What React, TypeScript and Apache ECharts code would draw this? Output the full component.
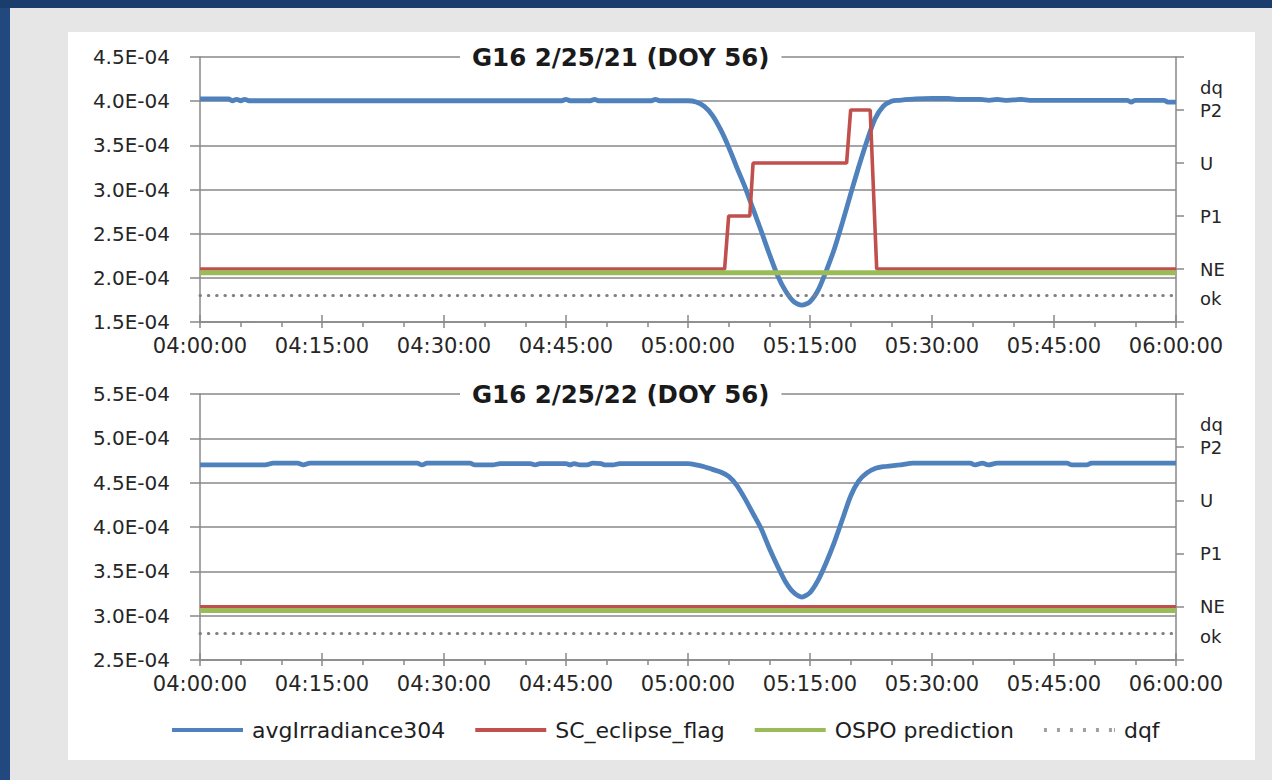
import { useEffect, useRef } from "react";
import * as echarts from "echarts";

// x values: minutes after 04:00:00 ; irradiance in W/m^2 (E-04 scale)
const X_TICK_LABELS = ["04:00:00", "04:15:00", "04:30:00", "04:45:00", "05:00:00", "05:15:00", "05:30:00", "05:45:00", "06:00:00"];

const TOP_TITLE = "G16 2/25/21 (DOY 56)";
const BOTTOM_TITLE = "G16 2/25/22 (DOY 56)";

const SERIES_NAMES = ["avgIrradiance304", "SC_eclipse_flag", "OSPO prediction", "dqf"];

const TOP_IRRADIANCE: [number, number][] = [
  [0, 4.025e-4], [3.5, 4.025e-4], [4, 4.005e-4], [4.5, 4.02e-4], [5, 4.005e-4], [5.5, 4.02e-4], [6, 4.005e-4],
  [44.5, 4.005e-4], [45, 4.02e-4], [45.5, 4.005e-4], [48, 4.005e-4], [48.5, 4.02e-4], [49, 4.005e-4],
  [55.5, 4.005e-4], [56, 4.02e-4], [56.5, 4.005e-4], [60, 4.005e-4], [61, 3.99e-4], [62, 3.94e-4],
  [63, 3.84e-4], [64, 3.68e-4], [65, 3.48e-4], [66, 3.25e-4], [67, 3.03e-4], [68, 2.78e-4], [69, 2.53e-4],
  [70, 2.27e-4], [71, 2.03e-4], [72, 1.85e-4], [73, 1.73e-4], [74, 1.69e-4], [75, 1.73e-4], [76, 1.86e-4],
  [77, 2.08e-4], [78, 2.33e-4], [79, 2.63e-4], [80, 2.95e-4], [81, 3.26e-4], [82, 3.55e-4], [83, 3.8e-4],
  [84, 3.94e-4], [85, 4.0e-4], [86, 4.01e-4], [88, 4.025e-4], [90, 4.03e-4], [92, 4.03e-4], [93, 4.02e-4],
  [96, 4.02e-4], [97, 4.01e-4], [98, 4.02e-4], [99, 4.01e-4], [101, 4.02e-4], [102, 4.01e-4], [114, 4.01e-4],
  [114.5, 3.99e-4], [115, 4.01e-4], [118.5, 4.01e-4], [119, 3.99e-4], [120, 3.99e-4],
];

const BOTTOM_IRRADIANCE: [number, number][] = [
  [0, 4.7e-4], [8, 4.7e-4], [9, 4.72e-4], [12, 4.72e-4], [12.7, 4.7e-4], [13.5, 4.72e-4], [26.7, 4.72e-4],
  [27.3, 4.7e-4], [27.9, 4.72e-4], [33.2, 4.72e-4], [33.8, 4.7e-4], [36, 4.7e-4], [36.9, 4.715e-4],
  [40.6, 4.715e-4], [41.2, 4.7e-4], [41.8, 4.715e-4], [45, 4.715e-4], [45.5, 4.7e-4], [46, 4.715e-4],
  [46.7, 4.7e-4], [47.6, 4.7e-4], [48.3, 4.72e-4], [49.3, 4.715e-4], [49.8, 4.7e-4], [50.8, 4.7e-4],
  [51.6, 4.715e-4], [60, 4.715e-4], [61, 4.7e-4], [62, 4.68e-4], [63, 4.65e-4], [64, 4.62e-4], [65, 4.57e-4],
  [66, 4.47e-4], [67, 4.32e-4], [68, 4.15e-4], [69, 3.98e-4], [70, 3.76e-4], [71, 3.56e-4], [72, 3.38e-4],
  [73, 3.26e-4], [74, 3.21e-4], [75, 3.26e-4], [76, 3.4e-4], [77, 3.6e-4], [78, 3.83e-4], [79, 4.09e-4],
  [80, 4.35e-4], [81, 4.52e-4], [82, 4.61e-4], [83, 4.66e-4], [84, 4.68e-4], [85, 4.69e-4], [86, 4.7e-4],
  [87.7, 4.72e-4], [94.7, 4.72e-4], [95.3, 4.7e-4], [96.2, 4.72e-4], [96.9, 4.7e-4], [98, 4.72e-4],
  [106.6, 4.72e-4], [107.2, 4.7e-4], [109, 4.7e-4], [109.6, 4.72e-4], [120, 4.72e-4],
];

// flag levels on the right axis: ok=0.5, NE=1, P1=2, U=3, P2=4
const TOP_ECLIPSE_FLAG: [number, number][] = [
  [0, 1], [64.5, 1], [65, 2], [67.6, 2], [68, 3], [79.5, 3], [80, 4], [82.4, 4], [83.2, 1], [120, 1],
];
const BOTTOM_ECLIPSE_FLAG: [number, number][] = [[0, 1], [120, 1]];
const TOP_OSPO: [number, number][] = [[0, 0.93], [120, 0.93]];
const BOTTOM_OSPO: [number, number][] = [[0, 0.93], [120, 0.93]];
const TOP_DQF: [number, number][] = [[0, 0.5], [120, 0.5]];
const BOTTOM_DQF: [number, number][] = [[0, 0.5], [120, 0.5]];

const FLAG_LABELS: [number, string][] = [[0.45, "ok"], [1, "NE"], [2, "P1"], [3, "U"], [4, "P2"], [4.42, "dq"]];

const TOP_Y = { min: 1.5e-4, max: 4.5e-4, interval: 0.5e-4 };
const BOTTOM_Y = { min: 2.5e-4, max: 5.5e-4, interval: 0.5e-4 };

const BLUE = "#4f81bd";
const RED = "#c0504d";
const GREEN = "#9bbb59";
const DOT = "#808080";
const GRID_GRAY = "#888888";
const TEXT = "#262626";
const FONT = "DejaVu Sans";

const SOLID_ICON = "path://M0,0h71v4h-71z";
const DOTTED_ICON =
  "path://M0,0h3v4h-3z M13,0h3v4h-3z M26,0h3v4h-3z M39,0h3v4h-3z M52,0h3v4h-3z M65,0h3v4h-3z M70,0h1v4h-1z";

function sciLabel(v: number): string {
  const s = v.toExponential(1);
  const [mant, exp] = s.split("e");
  const e = parseInt(exp, 10);
  return mant + "E" + (e < 0 ? "-" : "+") + String(Math.abs(e)).padStart(2, "0");
}

function flagLabel(v: number): string {
  let best = "";
  let d = 1e9;
  for (const [k, l] of FLAG_LABELS) {
    if (Math.abs(k - v) < d) {
      d = Math.abs(k - v);
      best = l;
    }
  }
  return d < 0.05 ? best : "";
}

function xLabel(v: number): string {
  const idx = Math.round(v / 15);
  return X_TICK_LABELS[idx] ?? "";
}

export default function App() {
  const ref = useRef<HTMLDivElement>(null);

  useEffect(() => {
    if (!ref.current) return;
    const chart = echarts.init(ref.current, undefined, { renderer: "svg" });

    const grids = [
      { left: 200, top: 57, width: 976, height: 265 },
      { left: 200, top: 394, width: 976, height: 266 },
    ];

    const mainX = (gridIndex: number) => ({
      type: "value" as const,
      gridIndex,
      min: 0,
      max: 120,
      interval: 15,
      axisLine: { show: true, onZero: false, lineStyle: { color: GRID_GRAY, width: 1.5 } },
      axisTick: { show: true, length: 6, lineStyle: { color: GRID_GRAY, width: 1.5 } },
      minorTick: { show: true, splitNumber: 3, length: 5, lineStyle: { color: GRID_GRAY, width: 1.5 } },
      splitLine: { show: false },
      axisLabel: { margin: 13, fontFamily: FONT, fontSize: 21, color: TEXT, formatter: xLabel },
    });
    const overlayX = (gridIndex: number) => ({
      type: "value" as const,
      gridIndex,
      min: 0,
      max: 120,
      interval: 15,
      position: "bottom" as const,
      axisLine: { show: false, onZero: false },
      axisTick: { show: true, inside: true, length: 7, lineStyle: { color: GRID_GRAY, width: 1.5 } },
      splitLine: { show: false },
      axisLabel: { show: false },
    });
    const leftY = (gridIndex: number, r: { min: number; max: number; interval: number }) => ({
      type: "value" as const,
      gridIndex,
      position: "left" as const,
      min: r.min,
      max: r.max,
      interval: r.interval,
      axisLine: { show: true, onZero: false, lineStyle: { color: GRID_GRAY, width: 1.5 } },
      axisTick: { show: true, inside: false, length: 10, lineStyle: { color: GRID_GRAY, width: 1.5 } },
      splitLine: { show: true, lineStyle: { color: GRID_GRAY, width: 1.5 } },
      axisLabel: { margin: 30, fontFamily: FONT, fontSize: 20, color: TEXT, formatter: sciLabel },
    });
    const rightY = (gridIndex: number) => ({
      type: "value" as const,
      gridIndex,
      position: "right" as const,
      min: 0,
      max: 5,
      interval: 1,
      axisLine: { show: true, onZero: false, lineStyle: { color: GRID_GRAY, width: 1.5 } },
      axisTick: { show: true, inside: false, length: 8, lineStyle: { color: GRID_GRAY, width: 1.5 } },
      splitLine: { show: false },
      axisLabel: {
        margin: 24,
        fontFamily: FONT,
        fontSize: 18,
        color: TEXT,
        customValues: FLAG_LABELS.map((f) => f[0]),
        formatter: flagLabel,
      },
    });

    const lineSeries = (
      name: string,
      data: [number, number][],
      xIdx: number,
      yIdx: number,
      color: string,
      width: number,
      extra: any = {}
    ) => ({
      name,
      type: "line" as const,
      xAxisIndex: xIdx,
      yAxisIndex: yIdx,
      data,
      symbol: "none",
      showSymbol: false,
      lineStyle: { color, width, ...(extra.lineStyle || {}) },
      itemStyle: { color },
      smooth: extra.smooth ?? false,
      z: extra.z ?? 2,
      silent: true,
    });

    const dotStyle = { type: [0.5, 7.8], cap: "round" };
    const titleStyle = { fontFamily: FONT, fontWeight: "bold", fontSize: 24.5, color: "#1a1a1a", lineHeight: 28 };

    const option: any = {
      animation: false,
      backgroundColor: "transparent",
      title: [
        { text: TOP_TITLE, left: 460, top: 42, backgroundColor: "#ffffff", padding: [1, 12], textStyle: titleStyle },
        { text: BOTTOM_TITLE, left: 460, top: 379, backgroundColor: "#ffffff", padding: [1, 12], textStyle: titleStyle },
      ],
      legend: {
        left: 167,
        top: 714,
        itemWidth: 71,
        itemHeight: 4,
        itemGap: 30,
        selectedMode: false,
        data: [
          { name: SERIES_NAMES[0], icon: SOLID_ICON, itemStyle: { color: BLUE } },
          { name: SERIES_NAMES[1], icon: SOLID_ICON, itemStyle: { color: RED } },
          { name: SERIES_NAMES[2], icon: SOLID_ICON, itemStyle: { color: GREEN } },
          { name: SERIES_NAMES[3], icon: DOTTED_ICON, itemStyle: { color: "#a0a0a0" } },
        ],
        textStyle: { fontFamily: FONT, fontSize: 22, color: "#1f1f1f", padding: [0, 0, 0, 4] },
      },
      grid: grids,
      xAxis: [mainX(0), overlayX(0), mainX(1), overlayX(1)],
      yAxis: [leftY(0, TOP_Y), rightY(0), leftY(1, BOTTOM_Y), rightY(1)],
      series: [
        lineSeries(SERIES_NAMES[0], TOP_IRRADIANCE, 0, 0, BLUE, 4.8, { smooth: 0.25 }),
        lineSeries(SERIES_NAMES[1], TOP_ECLIPSE_FLAG, 0, 1, RED, 3.6),
        lineSeries(SERIES_NAMES[2], TOP_OSPO, 0, 1, GREEN, 5),
        lineSeries(SERIES_NAMES[3], TOP_DQF, 0, 1, DOT, 3, { lineStyle: dotStyle }),
        lineSeries(SERIES_NAMES[0], BOTTOM_IRRADIANCE, 2, 2, BLUE, 4.8, { smooth: 0.25 }),
        lineSeries(SERIES_NAMES[1], BOTTOM_ECLIPSE_FLAG, 2, 3, RED, 3.6),
        lineSeries(SERIES_NAMES[2], BOTTOM_OSPO, 2, 3, GREEN, 5),
        lineSeries(SERIES_NAMES[3], BOTTOM_DQF, 2, 3, DOT, 3, { lineStyle: dotStyle }),
      ],
    };

    chart.setOption(option);
    return () => chart.dispose();
  }, []);

  return (
    <div style={{ position: "fixed", left: 0, top: 0, width: 1272, height: 780, background: "#21497f", overflow: "hidden" }}>
      <div style={{ position: "absolute", left: 0, top: 0, width: 1272, height: 8, background: "#1b3d6c" }} />
      <div style={{ position: "absolute", left: 10, top: 8, width: 1262, height: 772, background: "#e6e6e6" }} />
      <div style={{ position: "absolute", left: 68, top: 32, width: 1187, height: 728, background: "#ffffff" }} />
      <div ref={ref} style={{ position: "absolute", left: 0, top: 0, width: 1272, height: 780 }} />
    </div>
  );
}
